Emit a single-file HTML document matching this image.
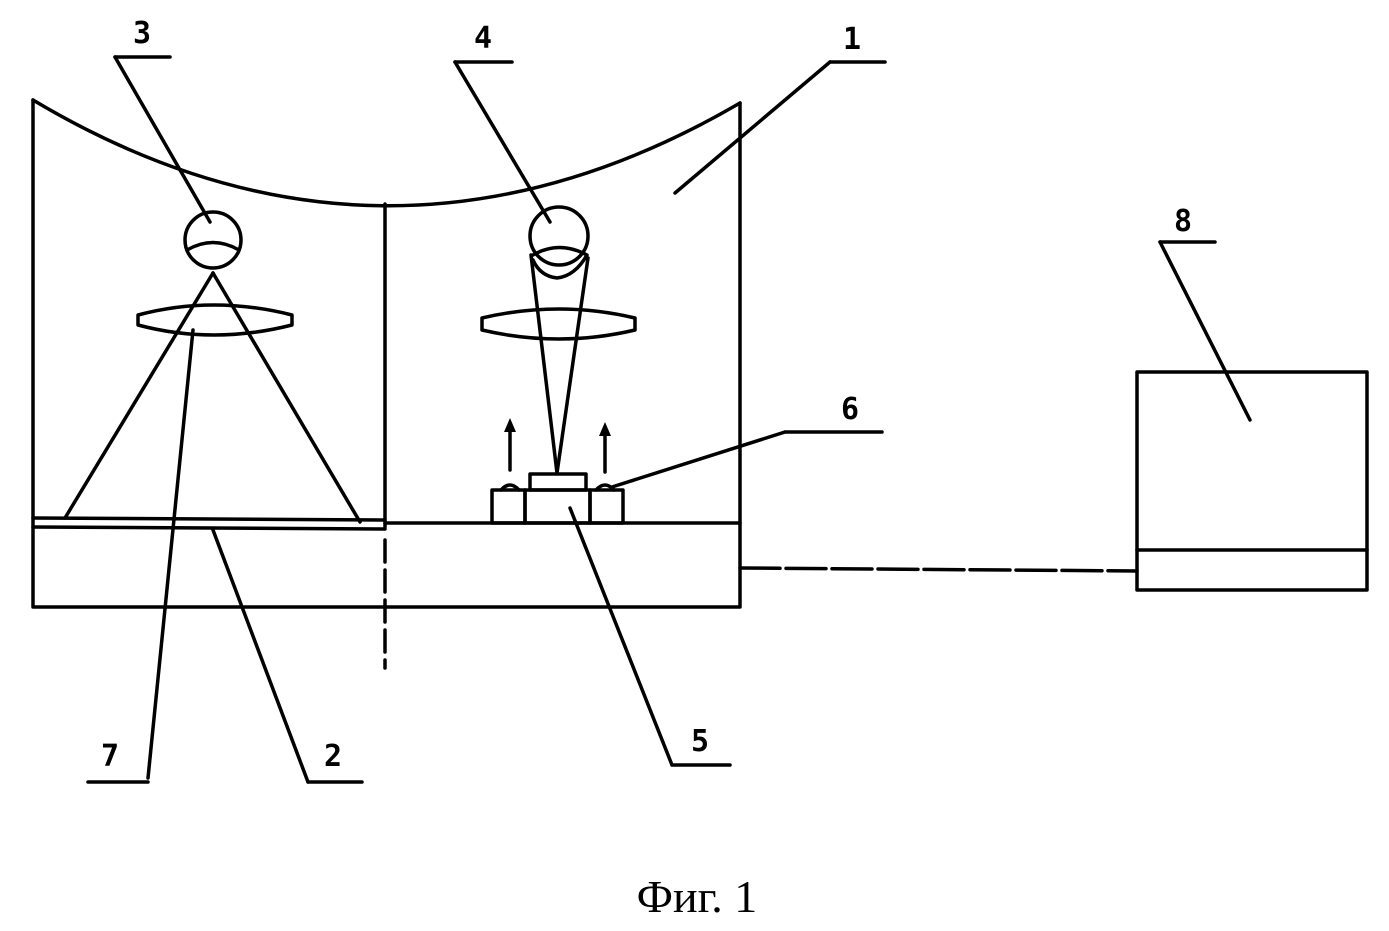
<!DOCTYPE html>
<html><head><meta charset="utf-8"><style>html,body{margin:0;padding:0;background:#fff}</style></head>
<body>
<svg width="1389" height="926" viewBox="0 0 1389 926" xmlns="http://www.w3.org/2000/svg">
<g fill="none" stroke="#000" stroke-width="3.5" stroke-linecap="round" stroke-linejoin="round">
<path d="M33,100 L33,607 L740,607 L740,103"/>
<path d="M33,100 Q385,310 740,103"/>
<line x1="385" y1="204" x2="385" y2="527"/>
<line x1="385" y1="540" x2="385" y2="668" stroke-dasharray="22,8"/>
<line x1="33" y1="518" x2="385" y2="520"/>
<line x1="33" y1="527" x2="385" y2="529"/>
<line x1="385" y1="523" x2="740" y2="523"/>
<circle cx="213" cy="240" r="28"/>
<path d="M187,250 Q213,235 239,250"/>
<path d="M138,315 Q213,295 292,315 L292,325 Q213,345 138,325 Z"/>
<line x1="213" y1="273" x2="65" y2="518"/>
<line x1="213" y1="273" x2="360" y2="522"/>
<line x1="193" y1="330" x2="148" y2="778"/>
<line x1="88" y1="782" x2="148" y2="782"/>
<line x1="213" y1="530" x2="308" y2="782"/>
<line x1="308" y1="782" x2="362" y2="782"/>
<circle cx="559" cy="236" r="29"/>
<path d="M533,255 Q559,240 587,255 Q575,276 557,278 Q540,276 533,260"/>
<path d="M482,318 Q559,300 635,318 L635,330 Q559,348 482,330 Z"/>
<line x1="531" y1="255" x2="557" y2="473"/>
<line x1="588" y1="258" x2="557" y2="473"/>
<rect x="492" y="490" width="33" height="33"/>
<rect x="525" y="490" width="65" height="33"/>
<rect x="530" y="474" width="56" height="16"/>
<rect x="590" y="490" width="33" height="33"/>
<path d="M501,490 Q510,480 519,490"/>
<path d="M596,490 Q605,480 614,490"/>
<line x1="510" y1="470" x2="510" y2="428"/>
<line x1="605" y1="472" x2="605" y2="432"/>
<line x1="612" y1="487" x2="785" y2="432"/>
<line x1="785" y1="432" x2="882" y2="432"/>
<line x1="675" y1="193" x2="830" y2="62"/>
<line x1="830" y1="62" x2="885" y2="62"/>
<line x1="210" y1="222" x2="115" y2="57"/>
<line x1="115" y1="57" x2="170" y2="57"/>
<line x1="550" y1="222" x2="455" y2="62"/>
<line x1="455" y1="62" x2="512" y2="62"/>
<line x1="570" y1="508" x2="672" y2="765"/>
<line x1="672" y1="765" x2="730" y2="765"/>
<line x1="1250" y1="420" x2="1160" y2="242"/>
<line x1="1160" y1="242" x2="1215" y2="242"/>
<rect x="1137" y="372" width="230" height="218"/>
<line x1="1137" y1="550" x2="1367" y2="550"/>
<line x1="740" y1="568" x2="1137" y2="571" stroke-dasharray="40,6"/>
</g>
<g fill="#000">
<polygon points="510,418 504,432 516,432"/>
<polygon points="605,422 599,436 611,436"/>
</g>
<g font-family="'DejaVu Sans Mono','Liberation Mono',monospace" font-size="30" font-weight="bold" fill="#000" text-anchor="middle">
<text x="142" y="43">3</text>
<text x="483" y="48">4</text>
<text x="852" y="49">1</text>
<text x="1183" y="231">8</text>
<text x="850" y="419">6</text>
<text x="700" y="751">5</text>
<text x="110" y="766">7</text>
<text x="333" y="766">2</text>
</g>
<text x="697" y="912" font-family="'Liberation Serif',serif" font-size="46" text-anchor="middle" fill="#000">Фиг. 1</text>
</svg>
</body></html>
